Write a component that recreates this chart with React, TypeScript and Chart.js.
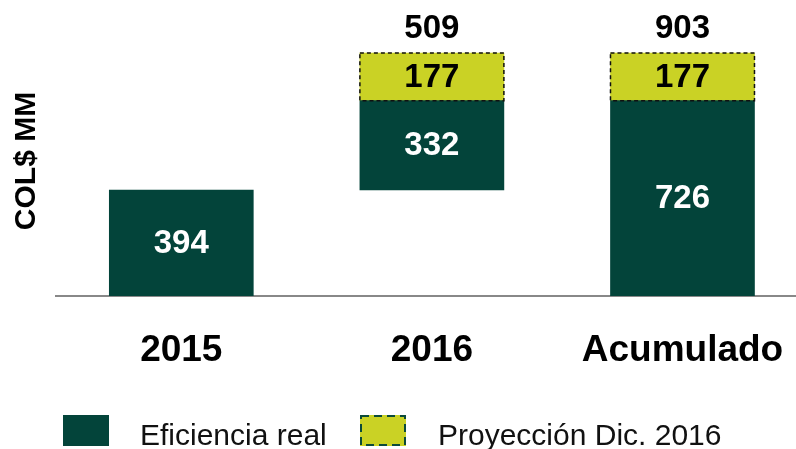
import React, { useEffect, useRef } from 'react';
import { Chart, registerables } from 'chart.js';

Chart.register(...registerables);

const categories = ['2015', '2016', 'Acumulado'];
const realLow = [0, 394, 0];
const realHigh = [394, 726, 726];
const projLow: (number | null)[] = [null, 726, 726];
const projHigh: (number | null)[] = [null, 903, 903];
const totalLabels = ['', '509', '903'];
const seriesNames = ['Eficiencia real', 'Proyección Dic. 2016'];
const yAxisTitle = 'COL$ MM';

const GREEN = '#03443A';
const YELLOW = '#CAD225';
const LEGEND_BORDER = '#0B4A3A';
const FONT = "'Liberation Sans', Arial, sans-serif";

const overlayPlugin = {
  id: 'overlay',
  afterDatasetsDraw(chart: any) {
    const ctx = chart.ctx;
    ctx.save();
    chart.data.datasets.forEach((ds: any, di: number) => {
      const meta = chart.getDatasetMeta(di);
      meta.data.forEach((el: any, i: number) => {
        const { x, y, base, width } = el.getProps(['x', 'y', 'base', 'width'], true);
        const top = Math.min(y, base);
        const bottom = Math.max(y, base);
        const raw = ds.data[i];
        const val = raw.y[1] - raw.y[0];
        if (di === 1) {
          ctx.save();
          ctx.setLineDash([4, 3]);
          ctx.lineWidth = 1.5;
          ctx.strokeStyle = '#111111';
          ctx.strokeRect(x - width / 2, top, width, bottom - top);
          ctx.restore();
        }
        ctx.font = `bold 33px ${FONT}`;
        ctx.textAlign = 'center';
        ctx.textBaseline = 'middle';
        ctx.fillStyle = di === 0 ? '#FFFFFF' : '#000000';
        ctx.fillText(String(val), x, (top + bottom) / 2 + 1);
        if (di === 1) {
          const t = totalLabels[raw.x];
          if (t) {
            ctx.fillStyle = '#000000';
            ctx.fillText(t, x, top - 24);
          }
        }
      });
    });
    ctx.restore();
  },
  afterDraw(chart: any) {
    const ctx = chart.ctx;
    ctx.save();
    // y axis title
    ctx.translate(27, 161);
    ctx.rotate(-Math.PI / 2);
    ctx.font = `bold 30px ${FONT}`;
    ctx.fillStyle = '#000000';
    ctx.textAlign = 'center';
    ctx.textBaseline = 'middle';
    ctx.fillText(yAxisTitle, 0, 0);
    ctx.restore();

    // legend
    ctx.save();
    ctx.fillStyle = GREEN;
    ctx.fillRect(63, 415, 46, 31);
    ctx.fillStyle = YELLOW;
    ctx.fillRect(360, 415, 46, 31);
    ctx.setLineDash([8, 5]);
    ctx.lineWidth = 2;
    ctx.strokeStyle = LEGEND_BORDER;
    ctx.strokeRect(361, 416, 44, 29);
    ctx.setLineDash([]);
    ctx.font = `30px ${FONT}`;
    ctx.fillStyle = '#111111';
    ctx.textAlign = 'left';
    ctx.textBaseline = 'alphabetic';
    ctx.fillText(seriesNames[0], 140, 445);
    ctx.fillText(seriesNames[1], 438, 445);
    ctx.restore();
  },
};

export default function App() {
  const canvasRef = useRef<HTMLCanvasElement | null>(null);

  useEffect(() => {
    if (!canvasRef.current) return;
    const realData = categories.map((_, i) => ({ x: i, y: [realLow[i], realHigh[i]] }));
    const projData = categories
      .map((_, i) => (projLow[i] == null ? null : { x: i, y: [projLow[i], projHigh[i]] }))
      .filter((d) => d !== null);

    const chart = new Chart(canvasRef.current, {
      type: 'bar',
      data: {
        datasets: [
          {
            label: seriesNames[0],
            data: realData as any,
            backgroundColor: GREEN,
            borderWidth: 0,
            grouped: false,
            barThickness: 144,
          } as any,
          {
            label: seriesNames[1],
            data: projData as any,
            backgroundColor: YELLOW,
            borderWidth: 0,
            grouped: false,
            barThickness: 144,
          } as any,
        ],
      },
      options: {
        animation: false,
        responsive: true,
        maintainAspectRatio: false,
        layout: { padding: { left: 56, right: 0, top: 0, bottom: 42.6 } },
        plugins: {
          legend: { display: false },
          tooltip: { enabled: false },
          title: { display: false },
        },
        scales: {
          x: {
            type: 'linear',
            offset: false,
            min: -0.5,
            max: 2.453,
            afterBuildTicks: (scale: any) => {
              scale.ticks = categories.map((_, i) => ({ value: i }));
            },
            afterFit: (scale: any) => {
              scale.paddingLeft = 0;
              scale.paddingRight = 0;
            },
            ticks: {
              callback: (v: any) => categories[v as number] ?? '',
              font: { family: FONT, size: 37, weight: 'bold' },
              color: '#000000',
              padding: 33,
              maxRotation: 0,
              autoSkip: false,
            },
            grid: { display: false, drawTicks: false },
            border: { display: true, color: '#888888', width: 2 },
          },
          y: {
            display: false,
            min: 0,
            max: 1100,
          },
        },
      } as any,
      plugins: [overlayPlugin],
    });
    return () => chart.destroy();
  }, []);

  return (
    <div style={{ position: 'fixed', left: 0, top: 0, width: 796, height: 449, background: '#ffffff' }}>
      <canvas ref={canvasRef} />
    </div>
  );
}
